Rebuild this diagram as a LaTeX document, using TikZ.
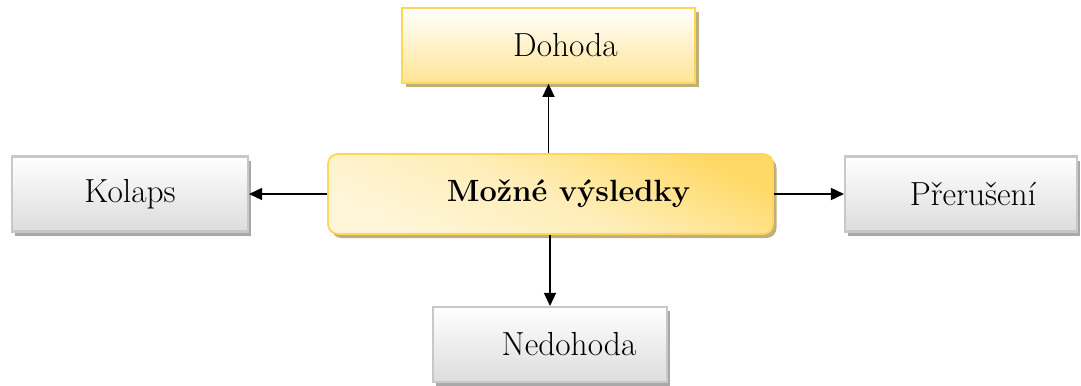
\documentclass[tikz,border=0pt]{standalone}
\usetikzlibrary{arrows.meta,shadows}
\definecolor{goldedge}{HTML}{FFD655}
\definecolor{golddark}{HTML}{FFD966}
\definecolor{goldlight}{HTML}{FFF6DA}
\definecolor{goldshadow}{HTML}{BFAF7C}
\definecolor{greyedge}{HTML}{C8C8C8}
\definecolor{greylow}{HTML}{DCDCDC}
\definecolor{greyshadow}{HTML}{A8A8A8}
\tikzset{
    mainbox/.style={draw=goldedge, line width=1pt, rounded corners=0.2cm,
        top color=golddark, bottom color=goldlight, middle color=goldlight!70!golddark, shading angle=-25,
        minimum width=8.9cm, minimum height=1.6cm,
        drop shadow={shadow xshift=0.07cm, shadow yshift=-0.08cm, fill=goldshadow, opacity=1},
        font=\fontsize{17.5}{21}\selectfont\bfseries},
    goldbox/.style={draw=goldedge, line width=1pt,
        top color=white, bottom color=golddark!70,
        minimum width=5.86cm, minimum height=1.5cm,
        drop shadow={shadow xshift=0.07cm, shadow yshift=-0.08cm, fill=goldshadow, opacity=1},
        font=\fontsize{19}{23}\selectfont},
    greybox/.style={draw=greyedge, line width=1.2pt,
        top color=white, bottom color=greylow,
        minimum height=1.5cm,
        drop shadow={shadow xshift=0.06cm, shadow yshift=-0.08cm, fill=greyshadow, opacity=1},
        font=\fontsize{19}{23}\selectfont},
    link/.style={line width=0.9pt, -{Triangle[length=0.26cm, width=0.24cm]}}
}
\begin{document}
\begin{tikzpicture}
        \useasboundingbox (0,0) rectangle (21.62,7.7);
        \node [mainbox] (vys) at (11.01,3.82) {\hspace*{0.72cm}Možné výsledky};
        \node [goldbox] (doh) at (10.97,6.79) {\hspace*{0.68cm}Dohoda};
        \node [greybox, minimum width=4.72cm] (kol) at (2.6,3.82) {Kolaps};
        \node [greybox, minimum width=4.64cm] (pre) at (19.22,3.82) {\hspace*{0.48cm}Přerušení};
        \node [greybox, minimum width=4.68cm] (ned) at (11.0,0.81) {\hspace*{0.76cm}Nedohoda};
        \draw [link] (vys.north -| doh.south) -- (doh.south);
        \draw [link] (vys.south -| ned.north) -- (ned.north);
        \draw [link] (vys) -- (kol);
        \draw [link] (vys) -- (pre);
    \end{tikzpicture}
\end{document}
